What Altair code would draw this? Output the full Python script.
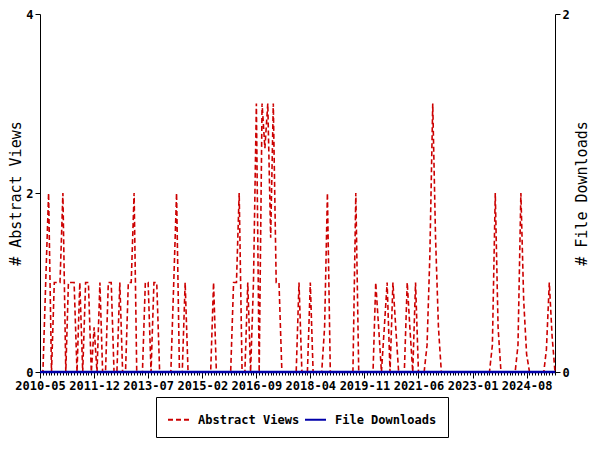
import altair as alt
import pandas as pd

# Monthly points, 2010-05 .. 2025-06
START = "2010-05-01"
N_MONTHS = 182
dates = pd.date_range(START, periods=N_MONTHS, freq="MS").strftime("%Y-%m-%d").tolist()

views = [
    0, 0, 1, 2, 0, 1, 1, 1, 2, 0, 1, 1,          # 2010-05 .. 2011-04
    1, 0, 1, 0, 1, 1, 0, 0.5, 0, 1, 0, 0,        # 2011-05 .. 2012-04
    1, 1, 0, 0, 1, 0, 0, 1, 1, 2, 0, 0,          # 2012-05 .. 2013-04
    0, 1, 1, 0, 1, 1, 0, 0, 0, 0, 0, 1,          # 2013-05 .. 2014-04
    2, 0, 0, 1, 0, 0, 0, 0, 0, 0, 0, 0,          # 2014-05 .. 2015-04
    0, 1, 0, 0, 0, 0, 0, 0, 1, 1, 2, 0,          # 2015-05 .. 2016-04
    0, 1, 0, 1, 3, 0, 3, 2.5, 3, 1.5, 3, 1,      # 2016-05 .. 2017-04
    1, 0, 0, 0, 0, 0, 0, 1, 0, 0, 0, 1,          # 2017-05 .. 2018-04
    0, 0, 0, 0, 0.5, 2, 0, 0, 0, 0, 0, 0,        # 2018-05 .. 2019-04
    0, 0, 0, 2, 0, 0, 0, 0, 0, 0, 1, 0.5,        # 2019-05 .. 2020-04
    0, 0.5, 1, 0, 1, 0.5, 0, 0, 0, 1, 0.5, 0,    # 2020-05 .. 2021-04
    1, 0, 0, 0, 0.3, 1.3, 3, 1.5, 0.5, 0, 0, 0,  # 2021-05 .. 2022-04
    0, 0, 0, 0, 0, 0, 0, 0, 0, 0, 0, 0,          # 2022-05 .. 2023-04
    0, 0, 0, 0.3, 2, 0.5, 0, 0, 0, 0, 0, 0,      # 2023-05 .. 2024-04
    0.3, 2, 0.8, 0.2, 0, 0, 0, 0, 0, 0, 0.25, 1, # 2024-05 .. 2025-04
    0.4, 0,                                      # 2025-05 .. 2025-06
]

downloads = [
    0, 0, 0, 0, 0, 0, 0, 0, 0, 0, 0, 0,
    0, 0, 0, 0, 0, 0, 0, 0, 0, 0, 0, 0,
    0, 0, 0, 0, 0, 0, 0, 0, 0, 0, 0, 0,
    0, 0, 0, 0, 0, 0, 0, 0, 0, 0, 0, 0,
    0, 0, 0, 0, 0, 0, 0, 0, 0, 0, 0, 0,
    0, 0, 0, 0, 0, 0, 0, 0, 0, 0, 0, 0,
    0, 0, 0, 0, 0, 0, 0, 0, 0, 0, 0, 0,
    0, 0, 0, 0, 0, 0, 0, 0, 0, 0, 0, 0,
    0, 0, 0, 0, 0, 0, 0, 0, 0, 0, 0, 0,
    0, 0, 0, 0, 0, 0, 0, 0, 0, 0, 0, 0,
    0, 0, 0, 0, 0, 0, 0, 0, 0, 0, 0, 0,
    0, 0, 0, 0, 0, 0, 0, 0, 0, 0, 0, 0,
    0, 0, 0, 0, 0, 0, 0, 0, 0, 0, 0, 0,
    0, 0, 0, 0, 0, 0, 0, 0, 0, 0, 0, 0,
    0, 0, 0, 0, 0, 0, 0, 0, 0, 0, 0, 0,
    0, 0,
]

label_months = ["2010-05", "2011-12", "2013-07", "2015-02", "2016-09",
                "2018-04", "2019-11", "2021-06", "2023-01", "2024-08"]

series_names = ["Abstract Views", "File Downloads"]
series_colors = ["#cc0000", "#0000aa"]
series_dash = [[5, 3], [1, 0]]
left_ticks = [0, 2, 4]
right_ticks = [0, 2]

df = pd.DataFrame({"date": dates, "views": views, "downloads": downloads})


def dt(s):
    return alt.DateTime(year=int(s[:4]), month=int(s[5:7]), date=1, utc=True)


FONT = "DejaVu Sans Mono"
x_scale = alt.Scale(type="utc", domain=[dt(dates[0]), dt(dates[-1])])


def make_legend():
    return alt.Legend(
        title=None, orient="none", legendX=116, legendY=383,
        direction="horizontal", strokeColor="black", padding=11,
        symbolType="stroke", symbolSize=441, symbolStrokeWidth=2,
        labelFont=FONT, labelFontSize=12, labelFontWeight="bold",
        labelColor="black", columnPadding=1, labelOffset=8,
    )


color_enc = alt.Color(
    "series:N",
    scale=alt.Scale(domain=series_names, range=series_colors),
    legend=make_legend(),
)
dash_enc = alt.StrokeDash(
    "series:N",
    scale=alt.Scale(domain=series_names, range=series_dash),
    legend=make_legend(),
)

views_layer = alt.Chart(df).transform_calculate(
    series="'Abstract Views'"
).mark_line(strokeWidth=1.6).encode(
    x=alt.X("date:T", scale=x_scale,
            axis=alt.Axis(orient="bottom", values=[dt(s) for s in label_months],
                          labelExpr="utcFormat(datum.value, '%Y-%m')",
                          tickSize=6, labelPadding=2, title=None,
                          labelOverlap=False, labelFlush=False)),
    y=alt.Y("views:Q", scale=alt.Scale(domain=[0, 4], nice=False),
            axis=alt.Axis(orient="left", values=left_ticks, title="# Abstract Views",
                          tickSize=5, titlePadding=2)),
    color=color_enc,
    strokeDash=dash_enc,
)

downloads_layer = alt.Chart(df).transform_calculate(
    series="'File Downloads'"
).mark_line(strokeWidth=2.5).encode(
    x=alt.X("date:T", scale=x_scale,
            axis=alt.Axis(orient="bottom", values=[dt(d) for d in dates],
                          labels=False, tickSize=3, title=None, domain=False)),
    y=alt.Y("downloads:Q", scale=alt.Scale(domain=[0, 2], nice=False),
            axis=alt.Axis(orient="right", values=right_ticks, title="# File Downloads",
                          titleAngle=270, tickSize=5, titlePadding=20)),
    color=color_enc,
    strokeDash=dash_enc,
)

chart = alt.layer(views_layer, downloads_layer).resolve_scale(
    y="independent"
).resolve_axis(
    x="independent", y="independent"
).properties(
    width=515, height=358,
    autosize=alt.AutoSizeParams(type="none"),
    padding={"left": 32, "top": 6, "right": 37, "bottom": 70},
).configure_view(stroke=None).configure_axis(
    grid=False, labelFont=FONT, labelFontWeight="bold", labelFontSize=12,
    labelColor="black", titleFont=FONT, titleFontSize=15, titleFontWeight="normal",
    titleColor="black", domainColor="black", tickColor="black",
)

chart.save("out.html", embed_options={"renderer": "svg", "actions": False})
